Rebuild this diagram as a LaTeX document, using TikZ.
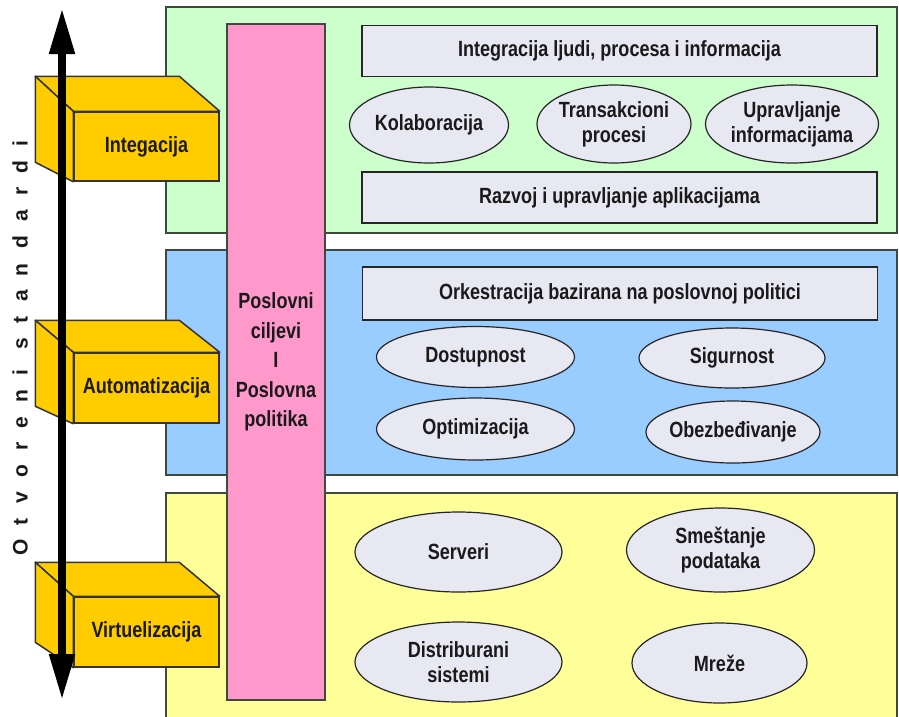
\documentclass[tikz,border=0pt]{standalone}
\usepackage{fontspec}
\setmainfont{Liberation Sans}[FakeStretch=0.82]
\newfontfamily\spacedfont{Liberation Sans}[LetterSpace=68]
\usepackage{xcolor}
\usetikzlibrary{shapes.geometric,arrows.meta}

\definecolor{greenlayer}{HTML}{CCFFCC}
\definecolor{bluelayer}{HTML}{99CCFF}
\definecolor{yellowlayer}{HTML}{FFFF99}
\definecolor{pinkcolumn}{HTML}{FF99CC}
\definecolor{goldbox}{HTML}{FFCC00}
\definecolor{itemfill}{HTML}{E8E8F2}
\definecolor{panelline}{HTML}{3F4A3F}
\definecolor{inktext}{HTML}{1A1A1A}

\begin{document}
\begin{tikzpicture}[x=1pt, y=-1pt,
        layer/.style={draw=panelline, line width=1.6pt},
        column/.style={rectangle, draw=panelline, fill=pinkcolumn, line width=1.2pt, minimum width=98pt, minimum height=676pt, inner sep=0pt},
        bar/.style={rectangle, draw=black!85, fill=itemfill, line width=1.2pt, minimum width=515pt, minimum height=51pt, inner sep=0pt, text=inktext, font=\bfseries\fontsize{22}{25}\selectfont},
        item/.style={ellipse, draw=black!85, fill=itemfill, line width=1.2pt, inner xsep=-12pt, inner ysep=-8pt, align=center, text=inktext, font=\bfseries\fontsize{22}{25}\selectfont},
        front/.style={rectangle, draw=black!80, fill=goldbox, line width=1.5pt, minimum width=145pt, minimum height=70pt, inner sep=0pt, text=inktext, font=\bfseries\fontsize{22}{25}\selectfont},
        face/.style={draw=black!80, fill=goldbox, line width=1.5pt, line join=round},
        stdarrow/.style={line width=8pt, {Triangle[width=24pt,length=46pt]}-{Triangle[width=24pt,length=46pt]}}
    ]
        \useasboundingbox (0,0) rectangle (899,716);
        \clip (0,0) rectangle (899,716);

        % Layers
        \draw[layer, fill=greenlayer] (166,7) rectangle (897,233);
        \draw[layer, fill=bluelayer] (166,250) rectangle (897,475);
        \draw[layer, fill=yellowlayer] (166,493) rectangle (897,722);

        % Business column
        \node[column] (goals) at (276,362) {};
        \node[align=center, text=inktext, font=\bfseries\fontsize{22}{29.5}\selectfont] (goalstext) at (276,362) {Poslovni\\ciljevi\\I\\Poslovna\\politika};

        % Integration layer
        \node[bar] (people) at (619.5,51) {Integracija ljudi, procesa i informacija};
        \node[item, minimum width=159pt, minimum height=76pt] (collab) at (429,125) {Kolaboracija};
        \node[item, minimum width=154pt, minimum height=78pt] (trans) at (614,124) {Transakcioni\\procesi};
        \node[item, minimum width=173pt, minimum height=78pt] (infoman) at (792,124) {Upravljanje\\informacijama};
        \node[bar] (appdev) at (619.5,197.5) {Razvoj i upravljanje aplikacijama};

        % Automation layer
        \node[bar, minimum height=53pt] (orch) at (620,293.5) {Orkestracija bazirana na poslovnoj politici};
        \node[item, minimum width=198pt, minimum height=61pt] (avail) at (475.5,357) {Dostupnost};
        \node[item, minimum width=186pt, minimum height=60pt] (secur) at (732,358) {Sigurnost};
        \node[item, minimum width=198pt, minimum height=62pt] (optim) at (475.5,429) {Optimizacija};
        \node[item, minimum width=174pt, minimum height=62pt] (provis) at (733,432) {Obezbeđivanje};

        % Virtualization layer
        \node[item, minimum width=207pt, minimum height=80pt] (servers) at (458.5,552) {Serveri};
        \node[item, minimum width=188pt, minimum height=84pt] (storage) at (720.5,550) {Smeštanje\\podataka};
        \node[item, minimum width=207pt, minimum height=80pt] (distsys) at (458.5,662) {Distriburani\\sistemi};
        \node[item, minimum width=175pt, minimum height=80pt] (networks) at (719.5,663) {Mreže};

        % Level boxes
        \node[front, minimum height=69pt] (integ) at (146.5,146.5) {Integacija};
        \draw[face] (integ.north west) -- ++(-38,-35) -- ++(144,0) -- (integ.north east) -- cycle;
        \draw[face] (integ.north west) -- ++(-38,-35) -- ++(0,86) -- (integ.south west) -- cycle;

        \node[front] (autom) at (146.5,388) {Automatizacija};
        \draw[face] (autom.north west) -- ++(-38,-32) -- ++(144,0) -- (autom.north east) -- cycle;
        \draw[face] (autom.north west) -- ++(-38,-32) -- ++(0,86) -- (autom.south west) -- cycle;

        \node[front] (virt) at (146.5,632) {Virtuelizacija};
        \draw[face] (virt.north west) -- ++(-38,-34) -- ++(144,0) -- (virt.north east) -- cycle;
        \draw[face] (virt.north west) -- ++(-38,-34) -- ++(0,80) -- (virt.south west) -- cycle;

        % Open standards axis
        \coordinate (stdtop) at (62,8);
        \coordinate (stdbot) at (62,700);
        \draw[stdarrow] (stdbot) -- (stdtop);
        \node[rotate=90, text=inktext, font=\spacedfont\bfseries\fontsize{21}{24}\selectfont] (openstd) at (20,348) {Otvoreni standardi};
    \end{tikzpicture}
\end{document}
